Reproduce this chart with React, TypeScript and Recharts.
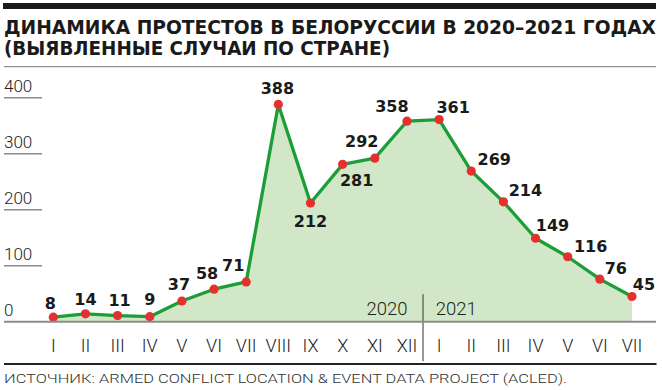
import { ComposedChart, Area, XAxis, YAxis, LabelList, ReferenceLine } from 'recharts';

const MONTHS = ['I', 'II', 'III', 'IV', 'V', 'VI', 'VII', 'VIII', 'IX', 'X', 'XI', 'XII', 'I', 'II', 'III', 'IV', 'V', 'VI', 'VII'];
const PROTESTS = [8, 14, 11, 9, 37, 58, 71, 388, 212, 281, 292, 358, 361, 269, 214, 149, 116, 76, 45];
const Y_TICKS = [0, 100, 200, 300, 400];
const YEARS = ['2020', '2021'];
const MONTH_INDEX = MONTHS.map((_, i) => i);

// where each value label sits, relative to its dot (x shift, baseline shift)
const LABEL_DX = [-3, 0, 2, 0, -3, -7, -13, -1, 0, 14, -13, -15, 14, 23, 22, 17, 23, 16, 12];
const LABEL_DY = [-8, -9, -10, -12, -11, -10, -11, -10, 24, 22, -11, -9, -7, -6, -6, -7, -5, -5, -7];

const TITLE_1 = 'ДИНАМИКА ПРОТЕСТОВ В БЕЛОРУССИИ В 2020–2021 ГОДАХ';
const TITLE_2 = '(ВЫЯВЛЕННЫЕ СЛУЧАИ ПО СТРАНЕ)';
const SOURCE = 'ИСТОЧНИК: ARMED CONFLICT LOCATION & EVENT DATA PROJECT (ACLED).';

const data = PROTESTS.map((v, i) => ({ i, v }));

const GREEN = '#1b9e38';
const FILL = '#d2e7c8';
const RED = '#e53030';
const AXIS = '#8c8c8c';
const LIGHT = 'Roboto, "Liberation Sans", sans-serif';
const BOLD = '"DejaVu Sans", sans-serif';
const HEAD = '"DejaVu Sans Condensed", "DejaVu Sans", sans-serif';

if (typeof document !== 'undefined') document.body.style.margin = '0';

function MonthTick({ x, y, payload }: any) {
  return (
    <text x={x} y={y + 30} textAnchor="middle" fontFamily={LIGHT} fontWeight={300} fontSize={18} fill="#222">
      {MONTHS[payload.value]}
    </text>
  );
}

function ValueTick({ y, payload }: any) {
  const isZero = payload.value === 0;
  return (
    <g>
      <line x1={4} x2={isZero ? 656 : 42} y1={y} y2={y} stroke={AXIS} strokeWidth={isZero ? 2 : 1.4} />
      <text x={4} y={y - 5.5} fontFamily={LIGHT} fontWeight={300} fontSize={17} fill="#222">
        {payload.value}
      </text>
    </g>
  );
}

function YearSplit({ x1, y1, y2 }: any) {
  const base = Math.max(y1, y2);
  return (
    <g>
      <line x1={x1} x2={x1} y1={base - 27.5} y2={base + 39.5} stroke="#333" strokeWidth={1} />
      <text x={x1 - 15.5} y={base - 6.7} textAnchor="end" fontFamily={LIGHT} fontWeight={300} fontSize={18.5} fill="#222">
        {YEARS[0]}
      </text>
      <text x={x1 + 12.7} y={base - 6.7} fontFamily={LIGHT} fontWeight={300} fontSize={18.5} fill="#222">
        {YEARS[1]}
      </text>
    </g>
  );
}

function ValueLabel(props: any) {
  const { x, y, value, index } = props;
  return (
    <text
      x={x + LABEL_DX[index]}
      y={y + LABEL_DY[index]}
      textAnchor="middle"
      fontFamily={BOLD}
      fontWeight={700}
      fontSize={16}
      fill="#1a1a1a"
    >
      {value}
    </text>
  );
}

export default function App() {
  return (
    <div style={{ position: 'relative', width: 662, height: 390, background: '#fff' }}>
      <div style={{ position: 'absolute', left: 0, top: 0 }}>
        <ComposedChart width={662} height={390} data={data} margin={{ top: 97.7, right: 30, bottom: 0, left: 4 }}>
          <XAxis
            dataKey="i"
            type="number"
            domain={[0, 18]}
            ticks={MONTH_INDEX}
            interval={0}
            height={68.3}
            axisLine={false}
            tickLine={false}
            tickSize={0}
            tickMargin={0}
            tick={<MonthTick />}
          />
          <YAxis
            type="number"
            domain={[0, 400]}
            ticks={Y_TICKS}
            width={49.3}
            axisLine={false}
            tickLine={false}
            tickSize={0}
            tickMargin={0}
            tick={<ValueTick />}
          />
          <ReferenceLine x={11.5} ifOverflow="visible" shape={<YearSplit />} />
          <Area
            dataKey="v"
            type="linear"
            stroke={GREEN}
            strokeWidth={3.3}
            strokeLinejoin="round"
            fill={FILL}
            fillOpacity={1}
            dot={{ r: 4.6, fill: RED, stroke: 'none' }}
            activeDot={false}
            isAnimationActive={false}
          >
            <LabelList dataKey="v" content={<ValueLabel />} />
          </Area>
        </ComposedChart>
      </div>
      <svg width={662} height={390} style={{ position: 'absolute', left: 0, top: 0, pointerEvents: 'none' }}>
        <rect x={3} y={3} width={653} height={6} fill="#1a1a1a" />
        <text x={4} y={33.5} fontFamily={HEAD} fontWeight={700} fontSize={19.5}
          textLength={652} lengthAdjust="spacingAndGlyphs" fill="#1a1a1a">
          {TITLE_1}
        </text>
        <text x={4} y={54.5} fontFamily={HEAD} fontWeight={700} fontSize={19.5}
          textLength={386} lengthAdjust="spacingAndGlyphs" fill="#1a1a1a">
          {TITLE_2}
        </text>
        <line x1={4} x2={656} y1={66.7} y2={66.7} stroke="#777" strokeWidth={1} />
        <line x1={4} x2={656.5} y1={364} y2={364} stroke="#222" strokeWidth={2} />
        <text x={4} y={383.3} fontFamily={LIGHT} fontWeight={300} fontSize={12} fill="#333"
          textLength={563} lengthAdjust="spacingAndGlyphs">
          {SOURCE}
        </text>
      </svg>
    </div>
  );
}
